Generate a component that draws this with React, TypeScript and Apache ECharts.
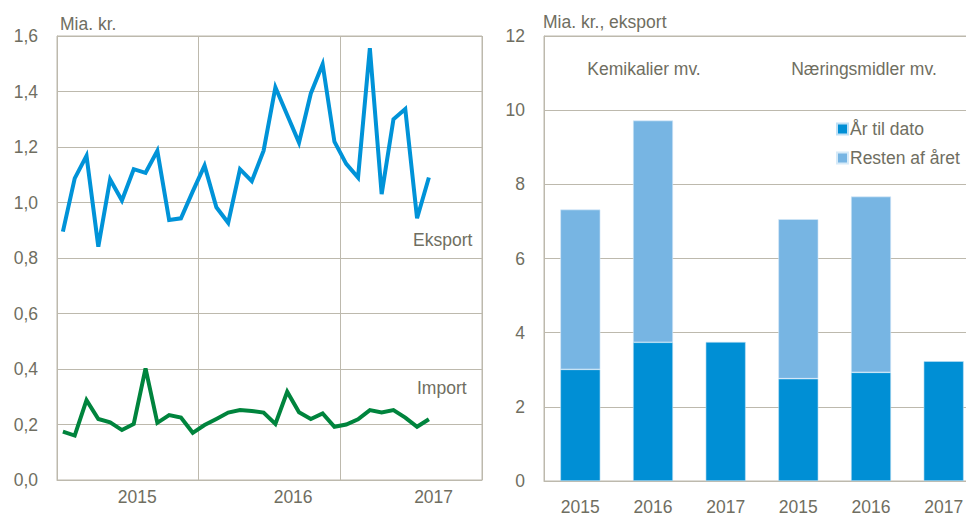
import React, { useEffect, useRef } from "react";
import * as echarts from "echarts";

// ---------- data ----------
const years = ["2015", "2016", "2017"];
const months: string[] = [];
years.forEach((y) => {
  for (let m = 1; m <= 12; m++) months.push(`${y}-${m < 10 ? "0" + m : m}`);
});

// monthly values, Jan 2015 - Aug 2017 (mia. kr.)
const eksport = [
  0.895, 1.087, 1.168, 0.841, 1.083, 1.007, 1.12, 1.107, 1.186, 0.937, 0.943, 1.04,
  1.133, 0.983, 0.927, 1.12, 1.077, 1.187, 1.415, 1.315, 1.216, 1.393, 1.498, 1.219,
  1.139, 1.09, 1.556, 1.03, 1.3, 1.337, 0.943, 1.09,
];
const importVals = [
  0.174, 0.16, 0.288, 0.22, 0.208, 0.18, 0.202, 0.402, 0.206, 0.234, 0.225, 0.17,
  0.198, 0.22, 0.243, 0.252, 0.249, 0.243, 0.202, 0.318, 0.244, 0.22, 0.24, 0.192,
  0.2, 0.219, 0.252, 0.243, 0.252, 0.225, 0.192, 0.219,
];
const yearTickLabels = ["2015", "2016", "2017"];
const leftYTicks = [0, 0.2, 0.4, 0.6, 0.8, 1.0, 1.2, 1.4, 1.6];

const barGroups = ["Kemikalier mv.", "Næringsmidler mv."];
const barYears = ["2015", "2016", "2017"];
const aarTilDato = [3.01, 3.74, 3.75, 2.76, 2.93, 3.23];
const restenAfAaret = [4.31, 5.98, null, 4.3, 4.74, null];
const rightYTicks = [0, 2, 4, 6, 8, 10, 12];

// ---------- style ----------
const FONT = '"Liberation Sans", Arial, sans-serif';
const FS = 17.5;
const TEXT = "#6F6E61";
const GRID = "#BDB9AD";
const BLUE_LINE = "#0093D8";
const GREEN_LINE = "#00843D";
const DARK_BAR = "#008FD5";
const LIGHT_BAR = "#77B5E3";

const barCategories = barGroups.flatMap((g) => barYears.map((y) => `${g}|${y}`));
const yearLabelPos = [6.8, 20.0, 31.9];

export default function App() {
  const ref = useRef<HTMLDivElement>(null);
  useEffect(() => {
    if (!ref.current) return;
    const chart = echarts.init(ref.current, null, { renderer: "svg" });
    const axisText = { color: TEXT, fontFamily: FONT, fontSize: FS };
    chart.setOption({
      animation: false,
      backgroundColor: "#fff",
      textStyle: { fontFamily: FONT, color: TEXT },
      grid: [
        { left: 57, top: 36, width: 425, height: 444, show: true, borderColor: GRID, borderWidth: 1 },
        { left: 544, top: 36, width: 436, height: 446, show: true, borderColor: GRID, borderWidth: 1 },
      ],
      legend: {
        data: ["År til dato", "Resten af året"],
        orient: "vertical",
        left: 831,
        top: 115,
        itemWidth: 11,
        itemHeight: 11,
        itemGap: 11,
        icon: "rect",
        textStyle: { ...axisText, padding: [0, 0, 0, -3] },
      },
      xAxis: [
        {
          type: "category",
          gridIndex: 0,
          data: months,
          boundaryGap: true,
          axisLine: { show: true, lineStyle: { color: GRID, width: 1 } },
          axisTick: { show: false },
          axisLabel: { show: false },
          splitLine: {
            show: true,
            interval: (i: number) => i % 12 === 0,
            lineStyle: { color: GRID, width: 1 },
          },
        },
        {
          type: "value",
          gridIndex: 0,
          min: 0,
          max: 36,
          position: "bottom",
          axisLine: { show: false },
          axisTick: { show: false },
          splitLine: { show: false },
          axisLabel: {
            ...axisText,
            margin: 8,
            customValues: yearLabelPos,
            formatter: (v: number) => {
              let best = 0;
              yearLabelPos.forEach((p, i) => {
                if (Math.abs(p - v) < Math.abs(yearLabelPos[best] - v)) best = i;
              });
              return yearTickLabels[best];
            },
          },
        },
        {
          type: "category",
          gridIndex: 1,
          data: barCategories,
          axisLine: { show: true, lineStyle: { color: GRID, width: 1 } },
          axisTick: { show: false },
          axisLabel: {
            ...axisText,
            margin: 17,
            interval: 0,
            formatter: (v: string) => v.split("|")[1],
          },
          splitLine: {
            show: true,
            interval: (i: number) => i === 3,
            lineStyle: { color: GRID, width: 1 },
          },
        },
      ],
      yAxis: [
        {
          type: "value",
          gridIndex: 0,
          min: leftYTicks[0],
          max: leftYTicks[leftYTicks.length - 1],
          interval: 0.2,
          axisLine: { show: true, lineStyle: { color: GRID, width: 1 } },
          axisTick: { show: false },
          axisLabel: { ...axisText, margin: 19, formatter: (v: number) => v.toFixed(1).replace(".", ",") },
          splitLine: { show: true, lineStyle: { color: GRID, width: 1 } },
        },
        {
          type: "value",
          gridIndex: 1,
          min: rightYTicks[0],
          max: rightYTicks[rightYTicks.length - 1],
          interval: 2,
          axisLine: { show: true, lineStyle: { color: GRID, width: 1 } },
          axisTick: { show: false },
          axisLabel: { ...axisText, margin: 19 },
          splitLine: { show: true, lineStyle: { color: GRID, width: 1 } },
        },
      ],
      series: [
        {
          name: "Eksport",
          type: "line",
          xAxisIndex: 0,
          yAxisIndex: 0,
          data: eksport,
          symbol: "none",
          lineStyle: { color: BLUE_LINE, width: 4, join: "miter" },
        },
        {
          name: "Import",
          type: "line",
          xAxisIndex: 0,
          yAxisIndex: 0,
          data: importVals,
          symbol: "none",
          lineStyle: { color: GREEN_LINE, width: 4, join: "miter" },
        },
        {
          name: "År til dato",
          type: "bar",
          xAxisIndex: 2,
          yAxisIndex: 1,
          stack: "tot",
          barWidth: 40,
          data: aarTilDato,
          itemStyle: { color: DARK_BAR, borderColor: "#BFE0F5", borderWidth: 0.6 },
        },
        {
          name: "Resten af året",
          type: "bar",
          xAxisIndex: 2,
          yAxisIndex: 1,
          stack: "tot",
          barWidth: 40,
          data: restenAfAaret,
          itemStyle: { color: LIGHT_BAR, borderColor: "#D6EAF8", borderWidth: 0.6 },
        },
      ],
      graphic: [
        { type: "text", left: 60, top: 15, style: { text: "Mia. kr.", fill: TEXT, font: `${FS}px ${FONT}` } },
        { type: "text", left: 543, top: 13, style: { text: "Mia. kr., eksport", fill: TEXT, font: `${FS}px ${FONT}` } },
        { type: "text", x: 413, y: 240, style: { text: "Eksport", fill: TEXT, font: `${FS}px ${FONT}`, verticalAlign: "middle" } },
        { type: "text", x: 417, y: 388, style: { text: "Import", fill: TEXT, font: `${FS}px ${FONT}`, verticalAlign: "middle" } },
        { type: "text", x: 644, y: 69, style: { text: barGroups[0], fill: TEXT, font: `${FS}px ${FONT}`, align: "center", verticalAlign: "middle" } },
        { type: "text", x: 864, y: 69, style: { text: barGroups[1], fill: TEXT, font: `${FS}px ${FONT}`, align: "center", verticalAlign: "middle" } },
      ],
    });
    return () => chart.dispose();
  }, []);
  return (
    <div style={{ position: "fixed", left: 0, top: 0, width: 966, height: 516, overflow: "hidden", background: "#fff" }}>
      <div ref={ref} style={{ width: 1000, height: 516 }} />
    </div>
  );
}
